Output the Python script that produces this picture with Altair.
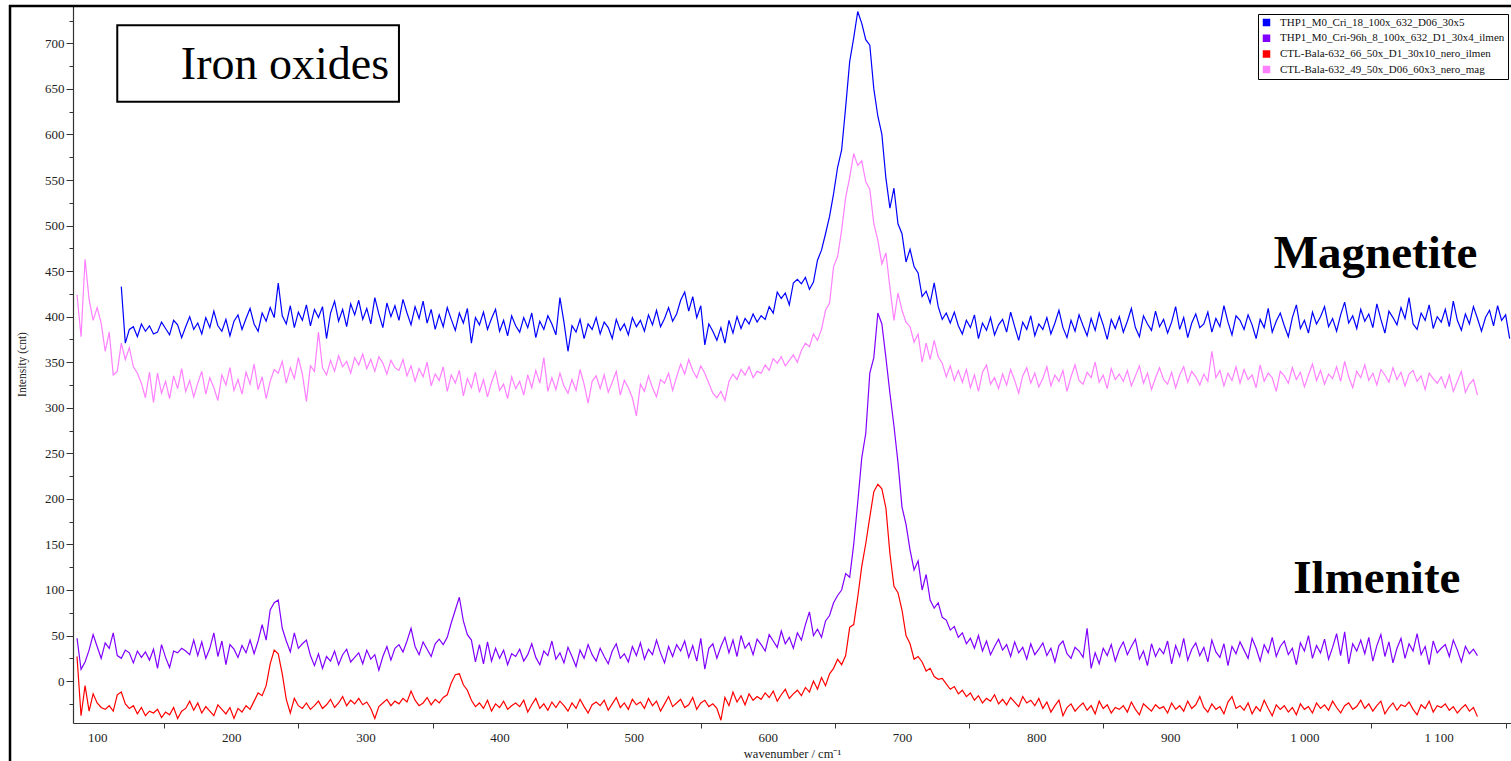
import altair as alt
import pandas as pd

# Raman spectra of iron oxides, sampled every 3 cm-1
STEP = 3
SERIES = [
    "THP1_M0_Cri_18_100x_632_D06_30x5",
    "THP1_M0_Cri-96h_8_100x_632_D1_30x4_ilmen",
    "CTL-Bala-632_66_50x_D1_30x10_nero_ilmen",
    "CTL-Bala-632_49_50x_D06_60x3_nero_mag",
]
COLORS = ["#0000ff", "#8000ff", "#ff0000", "#ff80ff"]
STARTS = [118, 85, 85, 85]

thp1_mag = [
    433, 371, 386, 389, 378, 392, 384, 390, 381,
    383, 394, 387, 380, 396, 391, 377, 389, 400, 386,
    393, 381, 399, 388, 406, 390, 384, 397, 379, 395,
    402, 386, 398, 409, 392, 384, 404, 395, 410, 399,
    437, 401, 392, 412, 388, 405, 396, 413, 390, 408,
    399, 411, 376, 404, 417, 395, 408, 389, 414, 402,
    418, 397, 409, 392, 421, 403, 388, 415, 400, 412,
    396, 419, 404, 391, 411, 398, 417, 393, 408, 386,
    402, 389, 410, 397, 385, 404, 393, 409, 371, 399,
    391, 405, 386, 398, 408, 384, 396, 379, 401, 390,
    383, 399, 388, 404, 377, 395, 386, 401, 392, 380,
    421, 394, 362, 390, 383, 397, 376, 392, 386, 399,
    381, 394, 388, 376, 397, 385, 392, 380, 399, 389,
    396, 384, 402, 391, 407, 389, 398, 410, 395, 403,
    418, 427, 406, 422, 399, 412, 369, 392, 384, 374,
    388, 371, 396, 382, 400, 387, 398, 392, 403, 394,
    401, 397, 411, 404, 427, 420, 426, 413, 437, 441,
    436, 443, 430, 438, 462, 473, 491, 510, 535, 564,
    583, 630, 680, 706, 735, 722, 704, 698, 650, 620,
    600, 552, 519, 541, 502, 491, 460, 474, 455, 448,
    422, 428, 415, 437, 411, 397, 404, 393, 405, 390,
    381, 396, 388, 402, 376, 393, 385, 399, 380, 391,
    397, 383, 405, 389, 374, 394, 386, 401, 379, 392,
    386, 399, 381, 393, 407, 388, 377, 396, 384, 402,
    390, 379, 398, 385, 404, 391, 375, 397, 387, 400,
    383, 395, 409, 388, 378, 401, 392, 385, 406, 389,
    397, 382, 394, 411, 386, 399, 377, 393, 403, 388,
    392, 405, 383, 398, 389, 412, 394, 380, 401, 396,
    386, 402, 391, 376, 397, 388, 409, 383, 395, 404,
    390, 378, 399, 413, 387, 396, 382, 405, 392, 400,
    411, 389, 398, 384, 402, 416, 393, 401, 387, 408,
    395, 403, 388, 414, 397, 382, 406, 399, 391, 410,
    398, 421, 392, 386, 404, 396, 413, 387, 400, 394,
    408, 389, 417, 396, 385, 403, 392, 411, 398, 384,
    399, 407, 390, 412, 396, 402, 376,
]

thp1_ilmen = [
    47, 13, 21, 34, 51, 38, 25, 42, 36, 53,
    28, 25, 34, 31, 20, 33, 26, 32, 23, 35,
    14, 40, 26, 15, 33, 31, 36, 33, 29, 45,
    28, 43, 25, 36, 53, 27, 44, 18, 40, 35,
    26, 39, 31, 45, 30, 44, 62, 45, 78, 86,
    89, 58, 44, 32, 53, 36, 41, 45, 28, 17,
    30, 14, 27, 22, 33, 18, 29, 35, 21, 26,
    31, 19, 34, 24, 29, 12, 27, 38, 23, 36,
    40, 32, 44, 58, 38, 29, 43, 35, 27, 41,
    46, 40, 48, 64, 78, 92, 66, 51, 45, 21,
    40, 19, 43, 22, 36, 25, 34, 18, 30, 27,
    35, 22, 29, 41, 26, 18, 33, 28, 44, 24,
    31, 20, 37, 27, 16, 34, 25, 40, 29, 22,
    36, 27, 19, 33, 41, 25, 30, 21, 38, 28,
    42, 24, 35, 29, 45, 31, 20, 38, 27, 40,
    33, 44, 26, 39, 22, 47, 13, 36, 41, 25,
    38, 48, 31, 45, 27, 50, 36, 42, 29, 46,
    40, 33, 51, 44, 37, 55, 41, 48, 36, 53,
    45, 62, 76, 50, 57, 48, 66, 72, 86, 94,
    100, 118, 114, 150, 196, 245, 272, 338, 355, 404,
    392, 355, 316, 280, 240, 191, 172, 144, 122, 132,
    100, 117, 89, 80, 86, 70, 67, 56, 60, 48,
    53, 41, 47, 36, 50, 33, 44, 29, 38, 46,
    34, 40, 27, 43, 31, 37, 24, 41, 29, 35,
    42, 28, 36, 21, 39, 44, 30, 25, 37, 33,
    26, 58, 14, 31, 19, 36, 28, 40, 22, 35,
    43, 29, 38, 46, 24, 33, 17, 41, 27, 36,
    30, 44, 19, 39, 27, 47, 23, 35, 42, 28,
    37, 21, 45, 32, 26, 41, 17, 38, 30, 43,
    34, 25, 47, 36, 22, 40, 31, 48, 27, 38,
    44, 29, 36, 18, 42, 33, 50, 25, 39, 31,
    46, 24, 37, 52, 28, 54, 19, 41, 33, 45,
    30, 48, 22, 39, 51, 27, 43, 20, 36, 47,
    25, 41, 33, 52, 29, 38, 18, 44, 31, 36,
    40, 27, 45, 34, 21, 38, 30, 35, 28,
]

ctl_ilmen = [
    27, -38, -5, -33, -14, -24, -29, -31, -27, -33,
    -15, -12, -25, -30, -27, -36, -29, -38, -33, -35,
    -31, -40, -34, -37, -29, -41, -33, -30, -22, -32,
    -24, -35, -28, -33, -38, -26, -31, -36, -29, -41,
    -30, -34, -27, -31, -22, -13, -16, -5, 19, 34,
    30, 8, -20, -35, -19, -27, -30, -24, -31, -27,
    -22, -30, -26, -20, -29, -24, -17, -27, -21, -25,
    -19, -26, -23, -30, -41, -28, -24, -20, -27, -22,
    -25, -19, -23, -11, -21, -27, -24, -18, -26, -20,
    -24, -18, -15, -2, 7, 8, -4, -10, -21, -28,
    -24, -30, -21, -33, -25, -29, -22, -31, -27, -24,
    -28, -21, -34, -26, -19, -30, -25, -32, -23, -29,
    -22, -27, -33, -24, -30, -20, -28, -35, -26, -23,
    -27, -21, -32, -25, -18, -29, -24, -31, -20, -26,
    -23, -30, -19, -27, -22, -33, -25, -17, -28, -24,
    -20, -29, -26, -18, -31, -24, -21, -28, -25, -30,
    -43, -18, -27, -12, -23, -16, -26, -14, -21, -17,
    -20, -13, -18, -11, -22, -15, -9, -19, -14, -10,
    -16, -7, -12, 0, -9, 4, -5, 8, 14, 24,
    18, 28, 59, 62, 92, 126, 151, 180, 208, 216,
    211, 190, 140, 104, 97, 78, 50, 41, 24, 27,
    21, 11, 14, 5, 2, 3, -3, -9, -6, -14,
    -10, -17, -13, -21, -16, -24, -19, -22, -15, -25,
    -20, -26, -18, -23, -28, -17, -24, -21, -27, -19,
    -30, -23, -34, -27, -21, -38, -29, -25, -33, -28,
    -24, -32, -27, -36, -22, -30, -26, -35, -29, -31,
    -27, -34, -23, -31, -37, -25, -29, -33, -26, -30,
    -28, -35, -24, -31, -27, -33, -22, -30, -26, -17,
    -29, -34, -25, -31, -28, -36, -23, -17, -30, -27,
    -32, -24, -36, -28, -33, -21, -30, -38, -26, -31,
    -27, -34, -29, -37, -25, -31, -28, -35, -24, -30,
    -26, -32, -22, -29, -35, -27, -24, -31, -28, -21,
    -30, -25, -33, -27, -22, -36, -29, -24, -32, -26,
    -28, -23, -31, -37, -26, -30, -22, -34, -27, -29,
    -25, -32, -28, -35, -30, -26, -33, -29, -39,
]

ctl_mag = [
    424, 378, 463, 419, 396, 410, 393, 362, 383, 336,
    340, 371, 353, 366, 345, 338, 327, 311, 339, 306,
    338, 316, 329, 310, 335, 321, 343, 318, 330, 312,
    327, 340, 315, 333, 322, 308, 336, 325, 344, 319,
    331, 315, 339, 326, 348, 320, 334, 310, 329, 342,
    338, 351, 327, 344, 332, 355, 337, 307, 346, 340,
    383, 344, 336, 352, 340, 357, 345, 351, 338, 355,
    347, 359, 343, 353, 340, 356, 349, 337, 352, 344,
    341, 353, 335, 346, 329, 343, 334, 350, 324, 337,
    330, 345, 318, 336, 327, 341, 313, 332, 322, 339,
    317, 331, 312, 328, 340, 319, 326, 310, 334, 321,
    329, 314, 336, 322, 341, 327, 355, 318, 333, 320,
    338, 324, 316, 331, 319, 342, 326, 305, 329, 335,
    321, 336, 317, 328, 340, 314, 330, 322, 311, 291,
    326, 318, 335, 322, 312, 331, 327, 338, 319, 334,
    348, 337, 353, 341, 333, 346, 338, 327, 316, 311,
    318, 308, 329, 337, 331, 342, 336, 345, 333, 340,
    338, 347, 341, 354, 349, 356, 346, 352, 358, 350,
    363, 371, 367, 381, 374, 386, 407, 415, 455, 466,
    495, 531, 553, 579, 566, 571, 548, 540, 502, 484,
    458, 470, 432, 396, 426, 407, 394, 389, 372, 381,
    350, 371, 353, 374, 356, 349, 334, 346, 330, 341,
    328, 342, 322, 336, 318, 339, 347, 326, 333, 321,
    337, 325, 342, 330, 316, 335, 344, 327, 338, 323,
    332, 345, 324, 336, 329, 341, 318, 334, 347, 330,
    326, 339, 333, 350, 328, 336, 321, 343, 331, 337,
    329, 341, 324, 335, 346, 327, 338, 320, 333, 344,
    331, 326, 339, 322, 336, 345, 328, 340, 334, 325,
    337, 329, 362, 333, 341, 324, 338, 330, 345, 327,
    342, 331, 336, 322, 347, 329, 338, 333, 318, 340,
    335, 327, 344, 331, 339, 323, 336, 348, 330, 341,
    326, 337, 332, 345, 329, 351, 334, 322, 340, 333,
    347, 330, 338, 325, 342, 336, 328, 344, 331, 339,
    324, 337, 341, 329, 335, 320, 338, 332, 327, 334,
    322, 336, 318, 329, 340, 317, 326, 331, 314,
]

# Caption and mineral names: text, wavenumber, intensity
CAPTION = ["Iron oxides"]
CAPTION_X = [240]
CAPTION_Y = [661]
MINERALS = ["Magnetite", "Ilmenite"]
MINERAL_X = [1053, 1054]
MINERAL_Y = [453, 97]
# Frame around the caption (wavenumber / intensity corners)
BOX_X = [115, 325]
BOX_Y = [720, 636]

X_DOMAIN = [82, 1154]
Y_DOMAIN = [-46, 741]
FONT = "Liberation Serif"

rows = []
for name, start, values in zip(SERIES, STARTS, [thp1_mag, thp1_ilmen, ctl_ilmen, ctl_mag]):
    for i, v in enumerate(values):
        rows.append({"series": name, "wavenumber": start + STEP * i, "intensity": v})
spectra = pd.DataFrame(rows)

caption = pd.DataFrame({"text": CAPTION, "wavenumber": CAPTION_X, "intensity": CAPTION_Y})
minerals = pd.DataFrame({"text": MINERALS, "wavenumber": MINERAL_X, "intensity": MINERAL_Y})
box = pd.DataFrame({"wavenumber": [BOX_X[0]], "x2": [BOX_X[1]],
                    "intensity": [BOX_Y[0]], "y2": [BOX_Y[1]]})

x_scale = alt.Scale(domain=X_DOMAIN, nice=False, zero=False)
y_scale = alt.Scale(domain=Y_DOMAIN, nice=False, zero=False)

x_axis = alt.Axis(
    values=list(range(100, 1151, 50)),
    labelExpr="datum.value % 100 === 0 ? replace(format(datum.value, ','), ',', ' ') : ''",
    tickSize={"condition": {"test": "datum.value % 100 === 0", "value": 0}, "value": 5},
    tickColor="#333", tickWidth=1, domainColor="#333", domainWidth=1.2,
    labelFont=FONT, labelFontSize=13, labelColor="#222", labelPadding=8,
    labelFlush=False, labelOverlap=False, grid=False,
    title="wavenumber / cm⁻¹", titleFont=FONT, titleFontSize=12.5,
    titleFontWeight="normal", titleColor="#222", titleY=30, titleBaseline="middle",
)
y_axis = alt.Axis(
    values=list(range(-25, 726, 25)),
    labelExpr="datum.value % 50 === 0 ? datum.value : ''",
    tickSize={"condition": {"test": "datum.value % 50 === 0", "value": 7}, "value": 4},
    tickColor="#333", tickWidth=1, domainColor="#333", domainWidth=1.2,
    labelFont=FONT, labelFontSize=13, labelColor="#222", labelPadding=2,
    labelFlush=False, labelOverlap=False, grid=False,
    title="Intensity (cnt)", titleFont=FONT, titleFontSize=11.5,
    titleFontWeight="normal", titleColor="#222", titleX=-51, titleY=358,
    titleAngle=270, titleAlign="center", titleBaseline="middle",
)

X = alt.X("wavenumber:Q", scale=x_scale, axis=x_axis)
Y = alt.Y("intensity:Q", scale=y_scale, axis=y_axis)

lines = alt.Chart(spectra).mark_line(strokeWidth=1.2, clip=True).encode(
    x=X,
    y=Y,
    color=alt.Color(
        "series:N",
        scale=alt.Scale(domain=SERIES, range=COLORS),
        sort=SERIES,
        legend=alt.Legend(
            orient="none", legendX=1185, legendY=8, title=None,
            symbolType="square", symbolSize=4, symbolStrokeWidth=5.5,
            labelFont=FONT, labelFontSize=11, labelColor="#111",
            labelOffset=8, padding=3, rowPadding=3.7, clipHeight=11,
            strokeColor="black", fillColor="white", labelLimit=400,
        ),
    ),
)

caption_box = alt.Chart(box).mark_rect(
    fill="white", stroke="black", strokeWidth=2
).encode(x=X, x2="x2:Q", y=Y, y2="y2:Q")

caption_text = alt.Chart(caption).mark_text(
    font=FONT, fontSize=46, align="center", baseline="alphabetic", color="black"
).encode(x=X, y=Y, text="text:N")

mineral_text = alt.Chart(minerals).mark_text(
    font=FONT, fontSize=47, fontWeight="bold", align="center",
    baseline="alphabetic", color="black"
).encode(x=X, y=Y, text="text:N")

# Outer figure frame (left and top edges)
frame_left = alt.Chart(box).mark_rule(color="black", strokeWidth=2.5).encode(
    x=alt.value(-63), y=alt.value(-1), y2=alt.value(760)
)
frame_top = alt.Chart(box).mark_rule(color="black", strokeWidth=2.5).encode(
    x=alt.value(-64), x2=alt.value(1440), y=alt.value(0)
)

chart = alt.layer(
    caption_box, lines, caption_text, mineral_text, frame_left, frame_top
).properties(
    width=1438, height=717,
    autosize=alt.AutoSizeParams(type="none"),
    padding={"left": 73, "top": 6, "right": 0, "bottom": 38},
    background="white",
).configure_view(stroke=None)

chart.save("out.html", embed_options={"renderer": "svg", "actions": False})
